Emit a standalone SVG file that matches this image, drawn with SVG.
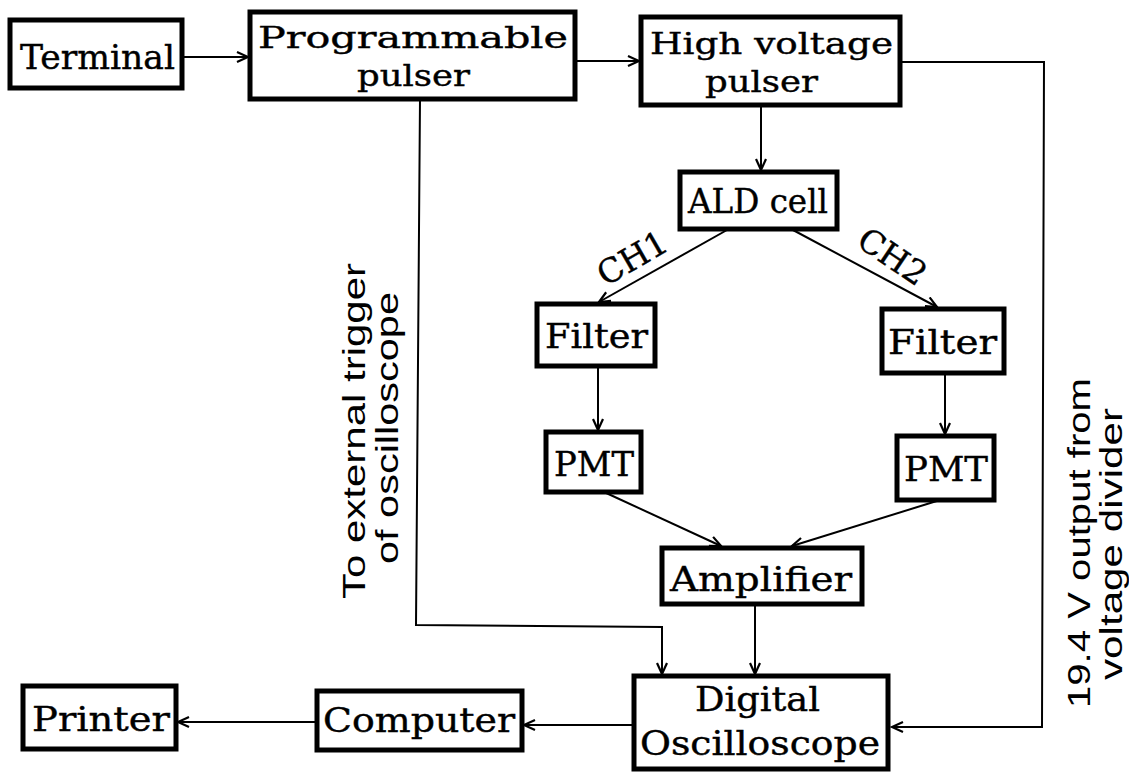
<svg xmlns="http://www.w3.org/2000/svg" width="1129" height="773" viewBox="0 0 1129 773">
<style>
.box{fill:#fff;stroke:#000;stroke-width:5}
.t{font-family:"DejaVu Serif","Liberation Serif",serif;font-size:33px;fill:#000;stroke:#000;stroke-width:0.4}
.t2{font-size:30px}
.s{font-family:"Liberation Sans",Arial,sans-serif;font-size:31px;fill:#000}
.c{fill:none;stroke:#000;stroke-width:2}
</style>
<defs>
<marker id="a" markerWidth="14" markerHeight="12" refX="12" refY="6" orient="auto" markerUnits="userSpaceOnUse">
<path d="M1,1 L12,6 L1,11" fill="none" stroke="#000" stroke-width="2.2"/>
</marker>
</defs>
<rect width="1129" height="773" fill="#fff"/>
<g id="connectors">
<line class="c" x1="182" y1="57" x2="248" y2="57" marker-end="url(#a)"/>
<line class="c" x1="575" y1="61" x2="639" y2="61" marker-end="url(#a)"/>
<line class="c" x1="761" y1="105" x2="761" y2="170" marker-end="url(#a)"/>
<polyline class="c" points="900,62 1044,62 1042,727 892,727" marker-end="url(#a)"/>
<line class="c" x1="727" y1="230" x2="599" y2="302" marker-end="url(#a)"/>
<line class="c" x1="793" y1="230" x2="937" y2="307" marker-end="url(#a)"/>
<line class="c" x1="598" y1="366" x2="598" y2="430" marker-end="url(#a)"/>
<line class="c" x1="945" y1="373" x2="945" y2="434" marker-end="url(#a)"/>
<line class="c" x1="604" y1="492" x2="721" y2="546" marker-end="url(#a)"/>
<line class="c" x1="940" y1="500" x2="792" y2="546" marker-end="url(#a)"/>
<line class="c" x1="755" y1="604" x2="755" y2="674" marker-end="url(#a)"/>
<polyline class="c" points="420,99 416,625 662,627 662,674" marker-end="url(#a)"/>
<line class="c" x1="634" y1="725" x2="524" y2="725" marker-end="url(#a)"/>
<line class="c" x1="317" y1="722" x2="178" y2="722" marker-end="url(#a)"/>
</g>
<g id="terminal"><rect class="box" x="10" y="20" width="172" height="68"/><text class="t" x="20" y="69" textLength="155" lengthAdjust="spacingAndGlyphs">Terminal</text></g>
<g id="prog"><rect class="box" x="250" y="12" width="325" height="87"/><text class="t t2" x="258" y="48" textLength="310" lengthAdjust="spacingAndGlyphs">Programmable</text><text class="t t2" x="357" y="86" textLength="113" lengthAdjust="spacingAndGlyphs">pulser</text></g>
<g id="hv"><rect class="box" x="641" y="17" width="259" height="88"/><text class="t t2" x="650" y="54" textLength="243" lengthAdjust="spacingAndGlyphs">High voltage</text><text class="t t2" x="705" y="92" textLength="113" lengthAdjust="spacingAndGlyphs">pulser</text></g>
<g id="ald"><rect class="box" x="680" y="172" width="157" height="57"/><text class="t" x="688" y="213" textLength="140" lengthAdjust="spacingAndGlyphs">ALD cell</text></g>
<g id="filter1"><rect class="box" x="537" y="304" width="118" height="62"/><text class="t" x="545" y="348" textLength="103" lengthAdjust="spacingAndGlyphs">Filter</text></g>
<g id="filter2"><rect class="box" x="882" y="309" width="122" height="64"/><text class="t" x="888" y="354" textLength="109" lengthAdjust="spacingAndGlyphs">Filter</text></g>
<g id="pmt1"><rect class="box" x="546" y="432" width="95" height="60"/><text class="t" x="554" y="476" textLength="80" lengthAdjust="spacingAndGlyphs">PMT</text></g>
<g id="pmt2"><rect class="box" x="897" y="436" width="97" height="64"/><text class="t" x="904" y="481" textLength="84" lengthAdjust="spacingAndGlyphs">PMT</text></g>
<g id="amp"><rect class="box" x="662" y="548" width="200" height="56"/><text class="t" x="670" y="591" textLength="182" lengthAdjust="spacingAndGlyphs">Amplifier</text></g>
<g id="scope"><rect class="box" x="634" y="676" width="254" height="93"/><text class="t" x="695" y="711" textLength="125" lengthAdjust="spacingAndGlyphs">Digital</text><text class="t" x="640" y="755" textLength="240" lengthAdjust="spacingAndGlyphs">Oscilloscope</text></g>
<g id="computer"><rect class="box" x="317" y="691" width="205" height="59"/><text class="t" x="323" y="732" textLength="192" lengthAdjust="spacingAndGlyphs">Computer</text></g>
<g id="printer"><rect class="box" x="23" y="686" width="153" height="63"/><text class="t" x="32" y="731" textLength="138" lengthAdjust="spacingAndGlyphs">Printer</text></g>
<g id="labels">
<text class="t" transform="translate(638,268) rotate(-30)" text-anchor="middle" font-size="29">CH1</text>
<text class="t" transform="translate(886,266) rotate(34)" text-anchor="middle" font-size="29">CH2</text>
<text class="s" transform="translate(365,431) rotate(-90)" text-anchor="middle" textLength="336" lengthAdjust="spacingAndGlyphs">To external trigger</text>
<text class="s" transform="translate(398,428) rotate(-90)" text-anchor="middle" textLength="272" lengthAdjust="spacingAndGlyphs">of oscilloscope</text>
<text class="s" transform="translate(1090,543) rotate(-90)" text-anchor="middle" textLength="330" lengthAdjust="spacingAndGlyphs">19.4 V output from</text>
<text class="s" transform="translate(1122,544) rotate(-90)" text-anchor="middle" textLength="272" lengthAdjust="spacingAndGlyphs">voltage divider</text>
</g>
</svg>
